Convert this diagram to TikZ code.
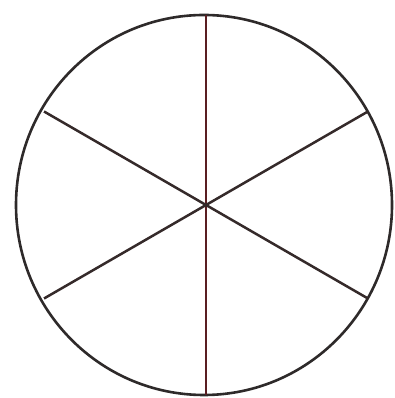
\documentclass[tikz,border=0pt]{standalone}
\usepackage{xcolor}
\usetikzlibrary{calc}
\definecolor{rimgrey}{HTML}{2E2A2A}
\definecolor{spokegrey}{HTML}{352A2A}
\definecolor{axisred}{HTML}{5A1E22}
\tikzset{
  rim/.style={draw=rimgrey, line width=2.6pt},
  spoke/.style={draw=spokegrey, line width=2.5pt},
  axisline/.style={draw=axisred, line width=2pt},
}
\begin{document}
\begin{tikzpicture}[x=1pt,y=1pt]
  \useasboundingbox (0,0) rectangle (394,398);
  \coordinate (c) at (204,193);
  \coordinate (hub) at (206,193);
  \draw[rim] (c) circle[x radius=188, y radius=190];
  % vertical diameter
  \coordinate (top) at ($(hub)+(0,190)$);
  \coordinate (bot) at ($(hub)+(0,-190)$);
  \draw[axisline] (top) -- (bot);
  % slanted diameters
  \foreach \a in {30,150}
    \draw[spoke] ($(hub)+(\a:187)$) -- ($(hub)+(\a+180:187)$);
\end{tikzpicture}
\end{document}
